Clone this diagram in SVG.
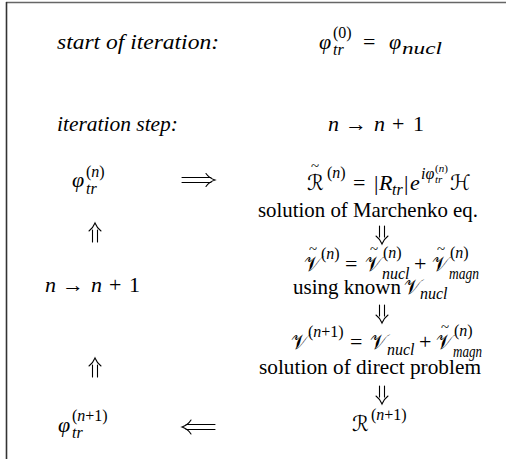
<svg xmlns="http://www.w3.org/2000/svg" width="506" height="459" viewBox="0 0 506 459">
<style>
.t{font-family:"Liberation Serif",serif;font-size:22px;fill:#000}
.r{font-family:"Liberation Serif",serif;font-size:21px;fill:#000}
.i{font-style:italic}
.s{font-family:"Liberation Serif",serif;font-size:16px;fill:#000}
.ss{font-family:"Liberation Serif",serif;font-size:11px;fill:#000}
.cs{font-family:"DejaVu Sans",serif;font-size:21px;fill:#000}
.til{font-family:"Liberation Serif",serif;font-size:15px;fill:#000}
.a{fill:none;stroke:#000;stroke-width:1.1;stroke-linecap:round}
</style>
<rect width="506" height="459" fill="#fff"/>
<line x1="6" y1="2.5" x2="506" y2="2.5" stroke="#666" stroke-width="1.5"/>
<line x1="6.5" y1="2" x2="6.5" y2="459" stroke="#333" stroke-width="1.6"/>

<g id="start-label"><text class="t i" x="57" y="49" textLength="162" lengthAdjust="spacingAndGlyphs">start of iteration:</text></g>
<g id="start-formula">
<text class="t i" x="319" y="49">φ</text>
<text class="s" x="333" y="38">(0)</text>
<text class="s i" x="333" y="55">tr</text>
<text class="t" x="363" y="49">=</text>
<text class="t i" x="389" y="49">φ</text>
<text class="s i" x="402" y="54" textLength="40" lengthAdjust="spacingAndGlyphs">nucl</text>
</g>
<g id="step-label"><text class="t i" x="57" y="131" textLength="121" lengthAdjust="spacingAndGlyphs">iteration step:</text></g>
<g id="step-formula">
<text class="t i" x="328" y="131">n</text>
<text class="t" x="345" y="131">→</text>
<text class="t i" x="374" y="131">n</text>
<text class="t" x="392" y="131">+</text>
<text class="t" x="413" y="131">1</text>
</g>
<g id="phi-n">
<text class="t i" x="72" y="187">φ</text>
<text class="s" x="86" y="177">(<tspan class="i">n</tspan>)</text>
<text class="s i" x="86" y="194">tr</text>
</g>
<g id="R-tilde">
<text class="cs" x="307" y="190">ℛ</text>
<text class="til" x="311" y="171">~</text>
<text class="s" x="327" y="178">(<tspan class="i">n</tspan>)</text>
<text class="t" x="353" y="190">=</text>
<text class="t" x="374" y="190">|</text>
<text class="t i" x="379" y="190">R</text>
<text class="s i" x="392" y="195">tr</text>
<text class="t" x="404" y="190">|</text>
<text class="t i" x="410" y="190">e</text>
<text class="s i" x="421" y="179">iφ</text>
<text class="ss" x="435" y="172">(<tspan class="i">n</tspan>)</text>
<text class="ss i" x="435" y="183">tr</text>
<text class="cs" x="450" y="190">ℋ</text>
</g>
<g id="marchenko"><text class="r" x="258" y="217" textLength="220" lengthAdjust="spacingAndGlyphs">solution of Marchenko eq.</text></g>
<g id="V-tilde">
<text class="cs" x="304" y="271">𝒱</text>
<text class="til" x="309" y="254">~</text>
<text class="s" x="321" y="259">(<tspan class="i">n</tspan>)</text>
<text class="t" x="345" y="271">=</text>
<text class="cs" x="365" y="271">𝒱</text>
<text class="til" x="370" y="254">~</text>
<text class="s" x="383" y="258">(<tspan class="i">n</tspan>)</text>
<text class="s i" x="382" y="279">nucl</text>
<text class="t" x="414" y="271">+</text>
<text class="cs" x="432" y="271">𝒱</text>
<text class="til" x="437" y="254">~</text>
<text class="s" x="450" y="258">(<tspan class="i">n</tspan>)</text>
<text class="s i" x="449" y="279" textLength="30" lengthAdjust="spacingAndGlyphs">magn</text>
</g>
<g id="n-step">
<text class="t i" x="45" y="292">n</text>
<text class="t" x="62" y="292">→</text>
<text class="t i" x="91" y="292">n</text>
<text class="t" x="109" y="292">+</text>
<text class="t" x="129" y="292">1</text>
</g>
<g id="using-known">
<text class="r" x="293" y="294">using known</text>
<text class="cs" x="404" y="294">𝒱</text>
<text class="s i" x="420" y="299">nucl</text>
</g>
<g id="V-n1">
<text class="cs" x="291" y="349">𝒱</text>
<text class="s" x="308" y="337">(<tspan class="i">n</tspan>+1)</text>
<text class="t" x="350" y="349">=</text>
<text class="cs" x="370" y="349">𝒱</text>
<text class="s i" x="387" y="355">nucl</text>
<text class="t" x="419" y="349">+</text>
<text class="cs" x="436" y="349">𝒱</text>
<text class="til" x="441" y="332">~</text>
<text class="s" x="454" y="336">(<tspan class="i">n</tspan>)</text>
<text class="s i" x="453" y="357" textLength="29" lengthAdjust="spacingAndGlyphs">magn</text>
</g>
<g id="direct"><text class="r" x="259" y="374" textLength="222" lengthAdjust="spacingAndGlyphs">solution of direct problem</text></g>
<g id="phi-n1">
<text class="t i" x="58" y="432">φ</text>
<text class="s" x="72" y="421">(<tspan class="i">n</tspan>+1)</text>
<text class="s i" x="72" y="438">tr</text>
</g>
<g id="R-n1">
<text class="cs" x="352" y="431">ℛ</text>
<text class="s" x="371" y="420">(<tspan class="i">n</tspan>+1)</text>
</g>

<g id="connectors">
<path class="a" d="M182,177.5H211M182,182.5H211M206,173.5Q209,178 215,180Q209,182 206,186.5"/>
<path class="a" d="M92.5,242V230M97.5,242V230M89,231Q93,228 95,223Q97,228 101,231"/>
<path class="a" d="M379.5,226V237M384.5,226V237M376,236Q380,239 382,244Q384,239 388,236"/>
<path class="a" d="M379.5,305V316M384.5,305V316M376,315Q380,318 382,323Q384,318 388,315"/>
<path class="a" d="M92.5,377V365M97.5,377V365M89,366Q93,363 95,358Q97,363 101,366"/>
<path class="a" d="M379.5,386V397M384.5,386V397M376,396Q380,399 382,404Q384,399 388,396"/>
<path class="a" d="M215,424.5H186M215,429.5H186M191,420Q188,425 182,427Q188,429 191,434"/>
</g>
</svg>
